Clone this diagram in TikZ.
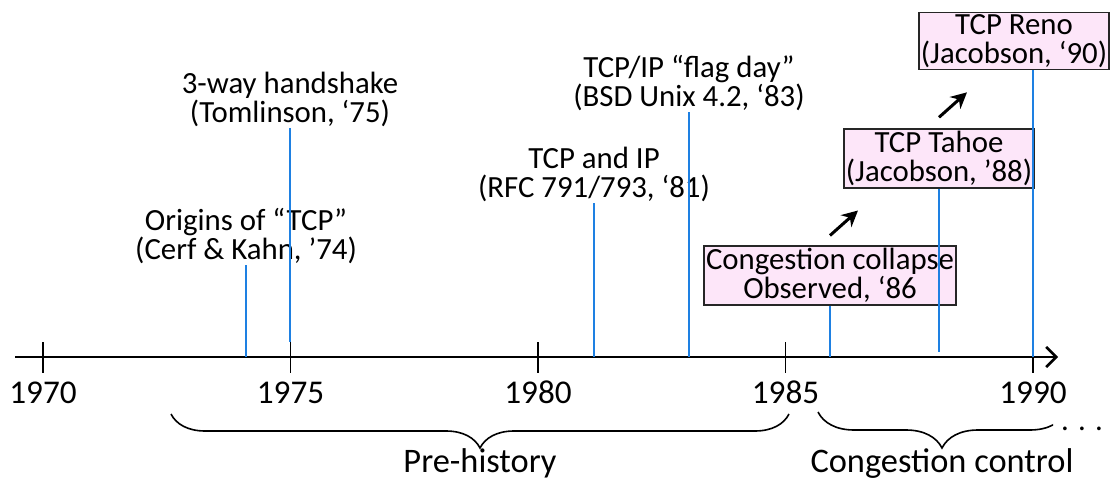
\documentclass[tikz,border=0pt]{standalone}
\usepackage{fontspec}
\setmainfont{Carlito}
\usetikzlibrary{positioning,arrows.meta,decorations.pathreplacing}
\definecolor{eventblue}{RGB}{30,128,226}
\definecolor{boxpink}{RGB}{253,230,249}

\begin{document}
\begin{tikzpicture}
  [x=0.5pt, y=-0.5pt, font=\fontsize{15.4}{14.6}\selectfont,
   event/.style={draw=eventblue, line width=1.2pt},
   lbl/.style={align=center, inner sep=0.5pt, anchor=south},
   milestone/.style={draw=black!85, fill=boxpink, align=center, inner xsep=1pt, inner ysep=1pt, line width=0.75pt},
   adv/.style={-{Stealth[length=8pt,width=8pt]}, line width=1.5pt},
   tick/.style={line width=0.9pt},
   brc/.style={decorate, line width=0.8pt},
   big/.style={anchor=base, font=\fontsize{17.2}{18}\selectfont}]
  \useasboundingbox (0,0) rectangle (1110,482);

  % time axis
  \draw [line width=1.3pt, -{Straight Barb[length=5pt,width=10pt]}] (15,357) -- (1058,357);
  \foreach \yr in {1970,1975,1980,1985,1990} {
    \pgfmathsetmacro{\xx}{43+49.5*(\yr-1970)}
    \draw [tick] (\xx,342) -- (\xx,373);
    \node [name=yr\yr, anchor=base, font=\fontsize{16.6}{18}\selectfont] at (\xx,403) {\yr};
  }

  \coordinate (t74) at (246,357);
  \coordinate (t75) at (290,342);
  \coordinate (t81) at (594,357);
  \coordinate (t83) at (689,357);
  \coordinate (t86) at (830,357);
  \coordinate (t88) at (939,352);
  \coordinate (t90) at (1033,357);

  % pre-history
  \node [lbl, name=origins] at (246,265) {Origins of “TCP”\\(Cerf \& Kahn, ’74)};
  \node [lbl, name=handshake] at (290,128) {3-way handshake\\(Tomlinson, ‘75)};
  \node [lbl, name=tcpip] at (594,203) {TCP and IP\\(RFC 791/793, ‘81)};
  \node [lbl, name=flagday] at (689,112) {TCP/IP “flag day”\\(BSD Unix 4.2, ‘83)};

  % congestion control
  \node [milestone, name=collapse] at (830,275.5) {Congestion collapse\\Observed, ‘86};
  \node [milestone, name=tahoe] at (939,158.5) {TCP Tahoe\\(Jacobson, ’88)};
  \node [milestone, name=reno] at (1014,41) {TCP Reno\\(Jacobson, ‘90)};

  \path (origins.south) edge [event] (t74)
        (handshake.south) edge [event] (t75)
        (tcpip.south) edge [event] (t81)
        (flagday.south) edge [event] (t83)
        (collapse.south) edge [event] (t86)
        (tahoe.south) edge [event] (t88)
        (reno.south -| t90) edge [event] (t90);

  \coordinate [above=5pt of collapse] (a1s);
  \coordinate [above right=12.5pt and 14pt of a1s] (a1e);
  \coordinate [above=5.5pt of tahoe] (a2s);
  \coordinate [above right=12.5pt and 14pt of a2s] (a2e);
  \draw [adv] (a1s) -- (a1e);
  \draw [adv] (a2s) -- (a2e);

  % braces
  \draw [brc, decoration={brace, amplitude=17pt}] (789,414) -- (171,414);
  \begin{scope}
    \clip (800,400) rectangle (1053,460);
    \draw [brc, decoration={brace, amplitude=18pt}] (1066,412) -- (818,412);
  \end{scope}
  \node [big, name=prehist] at (480,472) {Pre-history};
  \node [big, name=cc] at (942,472) {Congestion control};
  \node [name=more, anchor=base] at (1082,430) {. . .};
\end{tikzpicture}
\end{document}
